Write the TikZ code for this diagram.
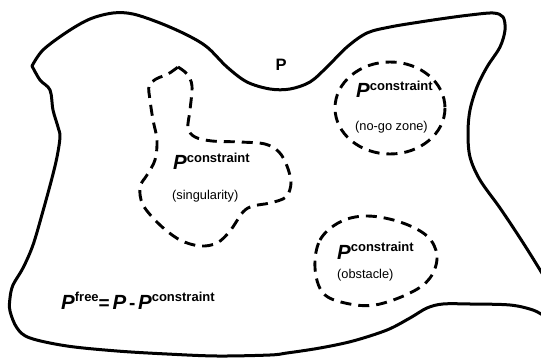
\documentclass[tikz,border=0pt]{standalone}
\usepackage{fontspec}
\setmainfont{Liberation Sans}
% Bold italic set symbol and its superscript
\newcommand\bigP{{\fontsize{20.5}{20.5}\selectfont\bfseries\itshape P}}
\newcommand\supword[1]{\raisebox{7.5pt}{\fontsize{13}{13}\selectfont\bfseries #1}}
\newcommand\Pcon{\bigP\supword{constraint}}
\begin{document}
\begin{tikzpicture}[x=1pt,y=-1pt,
  region/.style={line width=3pt, line join=round, line cap=round},
  zone/.style={line width=2.9pt, dash pattern=on 11pt off 7pt},
  lbl/.style={anchor=base west, inner sep=0pt},
  note/.style={anchor=base west, inner sep=0pt, font=\fontsize{12.8}{12.8}\selectfont}]
\useasboundingbox (0,0) rectangle (541,358);
\clip (0,0) rectangle (541,358);

% outer region P
\draw[region] plot[smooth, tension=0.55] coordinates {
  (32,66) (43,50) (67,32) (90,19) (113,13) (133,14) (160,23) (187,35)
  (207,47) (227,67) (247,82) (270,89) (290,89) (310,82) (327,67) (347,47)
  (367,33) (390,27) (420,22) (447,18) (470,15) (493,13) (503,17) (505,30)
  (500,47) (487,67) (477,87) (470,110) (468,133) (470,157) (480,180)
  (500,208) (520,238) (537,265) (555,295) (565,315) (548,317) (533,310)
  (510,305) (470,304) (443,304) (427,308) (410,318) (387,330) (353,341)
  (320,348) (287,353) (270,355) (217,356) (167,354) (117,351) (67,346)
  (30,338) (17,328) (10,311) (10,298) (13,285) (23,268) (33,245) (43,211)
  (52,178) (57,157) (60,137) (58,127) (53,110) (50,90) (40,80) (32,66)};

% singularity zone
\draw[zone] plot[smooth, tension=0.55] coordinates {
  (178,67) (187,74) (192,86) (190,110) (188,128) (195,137) (212,141)
  (240,142) (265,144) (279,152) (287,166) (291,183) (286,197) (270,203)
  (253,206) (243,212) (230,231) (217,243) (200,246) (180,240) (160,225)
  (143,205) (140,187) (147,175) (155,160) (157,140) (153,120) (150,100)
  (149,86) (156,79) (168,74) (178,67)};

% no-go zone
\draw[zone] (390,108) ellipse [x radius=55, y radius=46];

% obstacle zone
\draw[zone] plot[smooth cycle, tension=0.6] coordinates {
  (315,268) (320,240) (340,222) (367,216) (400,222) (427,236) (437,256)
  (430,278) (410,293) (375,305) (345,303) (323,293)};

% labels
\node[anchor=center, inner sep=0pt, font=\fontsize{16.5}{16.5}\selectfont\bfseries] (setP) at (281,65) {P};

\node[lbl] (nogo) at (356,98) {\Pcon};
\node[note] (nogotxt) at (355,131) {(no-go zone)};

\node[lbl] (sing) at (173,170) {\Pcon};
\node[note] (singtxt) at (172,200) {(singularity)};

\node[lbl] (obst) at (337,259) {\Pcon};
\node[note] (obsttxt) at (337,278) {(obstacle)};

\node[lbl] (free) at (61,309) {\bigP\supword{free}{\fontsize{19}{19}\selectfont\bfseries =} \bigP{} {\fontsize{19}{19}\selectfont\bfseries -} \Pcon};
\end{tikzpicture}
\end{document}
